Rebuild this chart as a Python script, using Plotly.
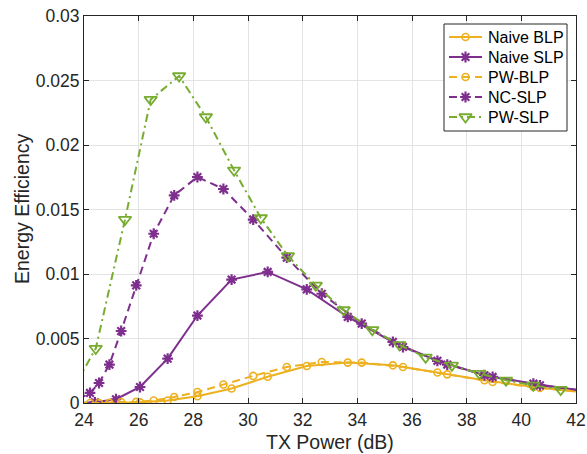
import plotly.graph_objects as go

# TX power (dB) and energy efficiency for each scheme
naive_x = [23.70, 24.40, 25.17, 26.05, 27.06, 28.15, 29.40, 30.72, 32.15, 33.65, 35.30, 36.93, 38.65, 40.44, 42.26]
naive_blp_y = [0.0, 0.00001, 0.00002, 0.00005, 0.00019, 0.00052, 0.00112, 0.00203, 0.00287, 0.00313,
               0.00292, 0.00236, 0.00176, 0.00124, 0.00083]
naive_slp_y = [0.0, 0.00005, 0.00029, 0.00124, 0.00344, 0.00678, 0.00957, 0.01016, 0.00881, 0.00667,
               0.00473, 0.00327, 0.00215, 0.00150, 0.00095]

pw_x = [23.80, 24.22, 24.55, 24.93, 25.36, 25.91, 26.55, 27.30, 28.15, 29.10, 30.19, 31.42, 32.70,
        34.16, 35.67, 37.29, 38.95, 40.68, 42.51]
pw_blp_y = [0.0, 0.0, 0.0, 0.00001, 0.00008, 0.00009, 0.00019, 0.00047, 0.00085, 0.00143, 0.00210,
            0.00279, 0.00318, 0.00313, 0.00279, 0.00222, 0.00163, 0.00116, 0.00079]
nc_slp_y = [0.0003, 0.00078, 0.00155, 0.00298, 0.00558, 0.00912, 0.01312, 0.01610, 0.01752, 0.01659,
            0.01422, 0.01127, 0.00847, 0.00616, 0.00434, 0.00298, 0.00202, 0.00137, 0.00090]

pwslp_x = [23.43, 24.43, 25.50, 26.44, 27.48, 28.46, 29.49, 30.47, 31.46, 32.48, 33.50, 34.55,
           35.54, 36.50, 37.46, 38.47, 39.44, 40.44, 41.44]
pw_slp_y = [0.00045, 0.00422, 0.01422, 0.02352, 0.02535, 0.02217, 0.01804, 0.01434, 0.01140, 0.00912,
            0.00721, 0.00567, 0.00451, 0.00354, 0.00292, 0.00228, 0.00176, 0.00137, 0.00104]

x_ticks = [24, 26, 28, 30, 32, 34, 36, 38, 40, 42]
y_ticks = [0, 0.005, 0.01, 0.015, 0.02, 0.025, 0.03]
y_tick_text = ["0", "0.005", "0.01", "0.015", "0.02", "0.025", "0.03"]

legend_names = ["Naive BLP", "Naive SLP", "PW-BLP", "NC-SLP", "PW-SLP"]
x_title = "TX Power (dB)"
y_title = "Energy Efficiency"

YELLOW = "#EDB120"
PURPLE = "#7E2F8E"
GREEN = "#77AC30"
AXIS = "#262626"
FONT = "Liberation Sans, Arial, sans-serif"

DASH = "8px,5px"
DASHDOT = "8px,4px,2px,4px"

W, H = 587, 454
ML, MR, MT, MB = 84, 11, 16, 51
X_RANGE = [24, 42]
Y_RANGE = [0, 0.03]
plot_w = W - ML - MR
plot_h = H - MT - MB


def px_to_x(px):
    return X_RANGE[0] + (px - ML) * (X_RANGE[1] - X_RANGE[0]) / plot_w


def py_to_y(py):
    return Y_RANGE[0] + (MT + plot_h - py) * (Y_RANGE[1] - Y_RANGE[0]) / plot_h


def px_to_paper(px):
    return (px - ML) / plot_w


def py_to_paper(py):
    return (MT + plot_h - py) / plot_h


# (name, x, y, colour, dash, marker symbol, marker size, marker line width)
series = [
    ("Naive BLP", naive_x, naive_blp_y, YELLOW, "solid", "circle-open", 7, 1.6),
    ("Naive SLP", naive_x, naive_slp_y, PURPLE, "solid", "asterisk-open", 9, 2.2),
    ("PW-BLP", pw_x, pw_blp_y, YELLOW, DASH, "circle-open", 7, 1.6),
    ("NC-SLP", pw_x, nc_slp_y, PURPLE, DASH, "asterisk-open", 9, 2.2),
    ("PW-SLP", pwslp_x, pw_slp_y, GREEN, DASHDOT, "triangle-down-open", 11, 1.8),
]

fig = go.Figure()

for name, xs, ys, col, dash, sym, size, mlw in series:
    fig.add_trace(go.Scatter(
        x=xs, y=ys, name=name, mode="lines+markers", showlegend=False,
        line=dict(color=col, width=2, dash=dash),
        marker=dict(symbol=sym, size=size, color=col, line=dict(width=mlw, color=col)),
    ))

# Boxed legend; box sits between the grid and the curves, entries on a pixel overlay axis
LEG_LEFT, LEG_TOP, LEG_RIGHT, LEG_BOTTOM = 444, 24, 567, 131
LEG_ROW0, LEG_ROW_STEP = 37, 20
SAMPLE_X0, SAMPLE_X1, TEXT_X = 449, 482, 486

fig.add_shape(type="rect", xref="x", yref="y",
              x0=px_to_x(LEG_LEFT), x1=px_to_x(LEG_RIGHT),
              y0=py_to_y(LEG_TOP), y1=py_to_y(LEG_BOTTOM),
              line=dict(color=AXIS, width=1), fillcolor="white", layer="between")

for i, (name, xs, ys, col, dash, sym, size, mlw) in enumerate(series):
    ry = LEG_ROW0 + i * LEG_ROW_STEP
    fig.add_trace(go.Scatter(
        x=[SAMPLE_X0, SAMPLE_X1], y=[ry, ry], xaxis="x2", yaxis="y2",
        mode="lines", showlegend=False, hoverinfo="skip", cliponaxis=False,
        line=dict(color=col, width=2, dash=dash),
    ))
    fig.add_trace(go.Scatter(
        x=[(SAMPLE_X0 + SAMPLE_X1) / 2], y=[ry], xaxis="x2", yaxis="y2",
        mode="markers", showlegend=False, hoverinfo="skip", cliponaxis=False,
        marker=dict(symbol=sym, size=size, color=col, line=dict(width=mlw, color=col)),
    ))
    fig.add_annotation(x=TEXT_X, y=ry, xref="x2", yref="y2", text=legend_names[i],
                       showarrow=False, xanchor="left", yanchor="middle",
                       font=dict(family=FONT, size=16, color="black"))

# Axis titles
fig.add_annotation(x=px_to_paper(330), y=py_to_paper(442), xref="paper", yref="paper",
                   text=x_title, showarrow=False, xanchor="center", yanchor="middle",
                   font=dict(family=FONT, size=19.5, color=AXIS))
fig.add_annotation(x=px_to_paper(22), y=py_to_paper(209), xref="paper", yref="paper",
                   text=y_title, showarrow=False, textangle=-90,
                   xanchor="center", yanchor="middle",
                   font=dict(family=FONT, size=19.5, color=AXIS))

axis_common = dict(
    showline=True, linecolor=AXIS, linewidth=1, mirror="ticks",
    ticks="inside", ticklen=5, tickcolor=AXIS, tickwidth=1,
    showgrid=True, gridcolor="#e3e3e3", gridwidth=1,
    zeroline=False, automargin=False,
    tickfont=dict(family=FONT, size=17.5, color=AXIS),
)

fig.update_xaxes(
    range=X_RANGE, tickvals=x_ticks, ticktext=[str(v) for v in x_ticks],
    ticklabelstandoff=1,
    **axis_common,
)
fig.update_yaxes(
    range=Y_RANGE, tickvals=y_ticks, ticktext=y_tick_text,
    **axis_common,
)

fig.update_layout(
    width=W, height=H,
    margin=dict(l=ML, r=MR, t=MT, b=MB),
    paper_bgcolor="white", plot_bgcolor="white",
    font=dict(family=FONT, color=AXIS),
    showlegend=False,
    xaxis2=dict(overlaying="x", range=[ML, ML + plot_w], visible=False, fixedrange=True),
    yaxis2=dict(overlaying="y", range=[MT + plot_h, MT], visible=False, fixedrange=True),
)

fig.write_html("out.html")
